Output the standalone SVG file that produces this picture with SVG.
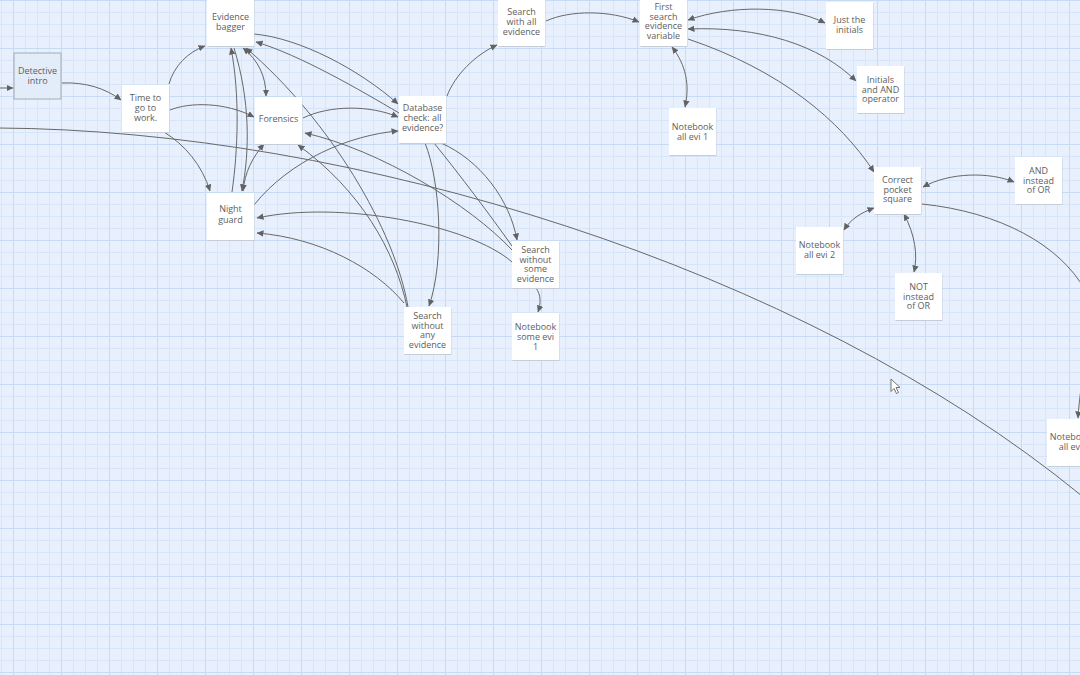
<svg xmlns="http://www.w3.org/2000/svg" width="1080" height="675" viewBox="0 0 1080 675">
<defs>
<pattern id="grid" x="13" y="0" width="48" height="48" patternUnits="userSpaceOnUse">
<rect width="48" height="48" fill="#e7f0fc"/>
<path d="M12.5 0V48M24.5 0V48M36.5 0V48M0 12.5H48M0 24.5H48M0 36.5H48" stroke="#d6e5f8" stroke-width="1"/>
<path d="M0.5 0V48M0 0.5H48" stroke="#c7dbf5" stroke-width="1"/>
</pattern>
<marker id="arr" viewBox="0 0 7 7" refX="6.5" refY="3.5" markerWidth="7" markerHeight="7" markerUnits="userSpaceOnUse" orient="auto-start-reverse">
<path d="M0 0.3L7 3.5L0 6.7Z" fill="#626262"/>
</marker>
</defs>
<style>
.node rect.b{fill:#ffffff}
.node rect.s{fill:#c5ced8}
.node text{font-family:"Open Sans","Liberation Sans",sans-serif;font-size:9px;fill:#5e5e5e;text-anchor:middle}
#connectors path{fill:none;stroke:#686868;stroke-width:1}
.e{marker-end:url(#arr)}
.d{marker-start:url(#arr);marker-end:url(#arr)}
</style>
<rect width="1080" height="675" fill="url(#grid)"/>

<g id="connectors">
<path class="e" d="M-2 88L13 88"/>
<path class="e" d="M62 83C85 82 105 88 121 100"/>
<path class="e" d="M169 84C174 66 188 52 205 46"/>
<path class="e" d="M170 110C190 102 225 102 254 117"/>
<path class="e" d="M164 132C185 145 202 165 210 191"/>
<path d="M-2 128C350 130 800 265 1082 496"/>
<path class="e" d="M254 34C300 38 360 70 398 104"/>
<path class="e" d="M399 113C360 90 300 55 256 42"/>
<path class="e" d="M408 307C395 230 330 120 246 48"/>
<path class="d" d="M243 48C258 60 266 76 266 96"/>
<path class="e" d="M234 48C250 100 250 150 242 191"/>
<path class="e" d="M232 192C238 150 240 95 231 48"/>
<path class="d" d="M264 144C252 158 245 172 243 191"/>
<path class="e" d="M303 118C330 105 370 105 398 117"/>
<path class="e" d="M254 205C290 160 350 135 398 131"/>
<path class="e" d="M512 250C470 205 380 150 305 133"/>
<path class="e" d="M407 307C395 250 360 190 298 145"/>
<path class="e" d="M512 262C470 225 340 200 257 218"/>
<path class="e" d="M404 303C375 268 320 238 257 233"/>
<path class="e" d="M447 96C455 75 475 55 497 45"/>
<path class="e" d="M425 143C440 180 445 260 429 306"/>
<path class="e" d="M441 143C480 160 510 200 517 240"/>
<path d="M512 246C490 215 460 175 434 143"/>
<path class="e" d="M546 21C570 10 610 10 639 22"/>
<path class="d" d="M688 20C730 5 790 5 825 23"/>
<path class="d" d="M688 29C760 26 820 45 856 81"/>
<path class="e" d="M688 39C780 70 840 120 874 172"/>
<path class="d" d="M672 47C686 65 690 85 685 107"/>
<path class="d" d="M923 187C950 172 990 172 1014 182"/>
<path class="d" d="M874 208C860 213 850 220 844 230"/>
<path class="d" d="M904 214C915 235 918 255 914 272"/>
<path class="e" d="M922 204C1000 212 1060 245 1085 290C1095 320 1080 380 1078 418"/>
<path class="e" d="M536 288C541 295 541 303 538 312"/>
</g>

<g id="n-intro" class="node"><rect x="14" y="53" width="47" height="46" fill="#e3edfa" stroke="#a2acb7" stroke-width="1"/><text x="37.5" y="74">Detective</text><text x="37.5" y="84">intro</text></g>
<g id="n-time" class="node"><rect class="s" x="122.5" y="86" width="47" height="47"/><rect class="b" x="122" y="85" width="47" height="47"/><text x="145.5" y="101">Time to</text><text x="145.5" y="111">go to</text><text x="145.5" y="121">work.</text></g>
<g id="n-bagger" class="node"><rect class="s" x="207.5" y="0" width="47" height="47"/><rect class="b" x="207" y="-1" width="47" height="47"/><text x="230.5" y="19.5">Evidence</text><text x="230.5" y="29.5">bagger</text></g>
<g id="n-forensics" class="node"><rect class="s" x="255.5" y="98" width="47" height="47"/><rect class="b" x="255" y="97" width="47" height="47"/><text x="278.5" y="122">Forensics</text></g>
<g id="n-night" class="node"><rect class="s" x="207.5" y="194" width="47" height="47"/><rect class="b" x="207" y="193" width="47" height="47"/><text x="230.5" y="212">Night</text><text x="230.5" y="222.5">guard</text></g>
<g id="n-database" class="node"><rect class="s" x="399.5" y="97" width="47" height="47"/><rect class="b" x="399" y="96" width="47" height="47"/><text x="422.5" y="111">Database</text><text x="422.5" y="121">check: all</text><text x="422.5" y="131">evidence?</text></g>
<g id="n-searchall" class="node"><rect class="s" x="498.5" y="0" width="47" height="47"/><rect class="b" x="498" y="-1" width="47" height="47"/><text x="521.5" y="15">Search</text><text x="521.5" y="25">with all</text><text x="521.5" y="35">evidence</text></g>
<g id="n-firstsearch" class="node"><rect class="s" x="640.5" y="0" width="47" height="47"/><rect class="b" x="640" y="-1" width="47" height="47"/><text x="663.5" y="10">First</text><text x="663.5" y="19.7">search</text><text x="663.5" y="29.4">evidence</text><text x="663.5" y="39.1">variable</text></g>
<g id="n-nb1" class="node"><rect class="s" x="669.5" y="109" width="47" height="47"/><rect class="b" x="669" y="108" width="47" height="47"/><text x="692.5" y="130">Notebook</text><text x="692.5" y="140">all evi 1</text></g>
<g id="n-justinit" class="node"><rect class="s" x="826.5" y="3" width="47" height="47"/><rect class="b" x="826" y="2" width="47" height="47"/><text x="849.5" y="23">Just the</text><text x="849.5" y="33">initials</text></g>
<g id="n-initand" class="node"><rect class="s" x="857.5" y="67" width="47" height="47"/><rect class="b" x="857" y="66" width="47" height="47"/><text x="880.5" y="83">Initials</text><text x="880.5" y="92.5">and AND</text><text x="880.5" y="102">operator</text></g>
<g id="n-correct" class="node"><rect class="s" x="874.5" y="168" width="47" height="47"/><rect class="b" x="874" y="167" width="47" height="47"/><text x="897.5" y="183">Correct</text><text x="897.5" y="192.5">pocket</text><text x="897.5" y="202">square</text></g>
<g id="n-andinst" class="node"><rect class="s" x="1015.5" y="158" width="47" height="47"/><rect class="b" x="1015" y="157" width="47" height="47"/><text x="1038.5" y="174">AND</text><text x="1038.5" y="183.5">instead</text><text x="1038.5" y="193">of OR</text></g>
<g id="n-nb2" class="node"><rect class="s" x="796.5" y="228" width="47" height="47"/><rect class="b" x="796" y="227" width="47" height="47"/><text x="819.5" y="248">Notebook</text><text x="819.5" y="258">all evi 2</text></g>
<g id="n-notinst" class="node"><rect class="s" x="895.5" y="274" width="47" height="47"/><rect class="b" x="895" y="273" width="47" height="47"/><text x="918.5" y="290">NOT</text><text x="918.5" y="299.5">instead</text><text x="918.5" y="309">of OR</text></g>
<g id="n-ssome" class="node"><rect class="s" x="512.5" y="242" width="47" height="47"/><rect class="b" x="512" y="241" width="47" height="47"/><text x="535.5" y="253">Search</text><text x="535.5" y="262.5">without</text><text x="535.5" y="272">some</text><text x="535.5" y="281.5">evidence</text></g>
<g id="n-nbsome" class="node"><rect class="s" x="512.5" y="314" width="47" height="47"/><rect class="b" x="512" y="313" width="47" height="47"/><text x="535.5" y="330">Notebook</text><text x="535.5" y="340">some evi</text><text x="535.5" y="349.5">1</text></g>
<g id="n-sany" class="node"><rect class="s" x="404.5" y="308" width="47" height="47"/><rect class="b" x="404" y="307" width="47" height="47"/><text x="427.5" y="319">Search</text><text x="427.5" y="328.5">without</text><text x="427.5" y="338">any</text><text x="427.5" y="347.5">evidence</text></g>
<g id="n-nbevi" class="node"><rect class="s" x="1047.5" y="420" width="47" height="47"/><rect class="b" x="1047" y="419" width="47" height="47"/><text x="1070.5" y="440">Notebook</text><text x="1070.5" y="450">all evi</text></g>

<path d="M891 379L891 391.5L894 388.5L896.5 393.5L898.5 392.5L896 387.5L900 387.5Z" fill="#ffffff" stroke="#555555" stroke-width="0.8" stroke-linejoin="round"/>
</svg>
